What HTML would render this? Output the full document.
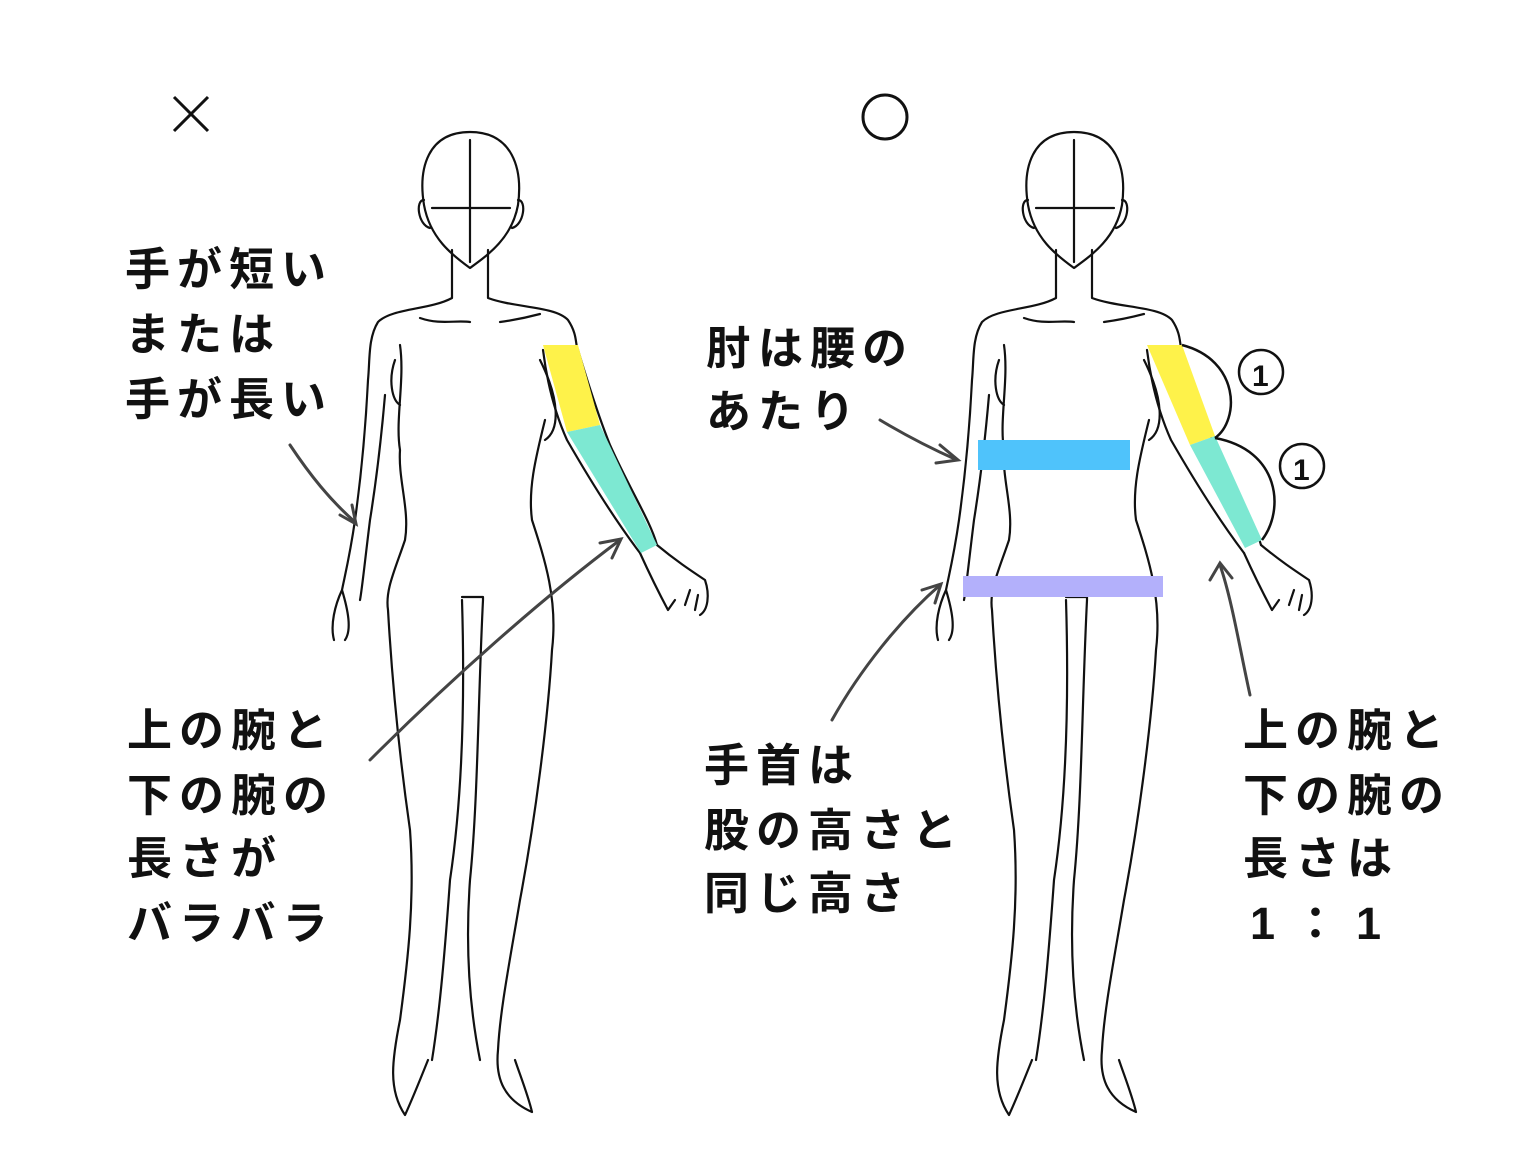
<!DOCTYPE html>
<html><head><meta charset="utf-8">
<style>
html,body{margin:0;padding:0;background:#fff;}
svg{display:block;}
text{font-family:"Liberation Sans","Noto Sans CJK JP",sans-serif;font-weight:bold;font-size:45px;fill:#111;letter-spacing:7px;}
</style></head><body>
<svg width="1536" height="1152" viewBox="0 0 1536 1152" xmlns="http://www.w3.org/2000/svg">
<defs>
<g id="fig" fill="none" stroke="#111" stroke-width="2.2" stroke-linejoin="round" stroke-linecap="round">
  <path d="M470,132 C428,132 418,168 424,205 C430,238 452,255 470,268 C488,255 512,238 518,205 C523,168 512,132 470,132 Z"/>
  <path d="M470,140 L470,262 M432,208 L510,208"/>
  <path d="M424,200 C415,200 418,225 430,228 M518,200 C527,200 524,225 512,228"/>
  <path d="M452,250 L452,298 C430,310 392,308 378,322 C368,338 370,360 368,380 C366,420 362,470 355,520 C350,555 345,575 342,590 C335,605 330,625 334,640 M342,590 C348,610 352,630 345,640"/>
  <path d="M488,250 L488,298 C515,308 555,306 568,320 C578,335 575,345 578,350"/>
  <path d="M420,318 C440,325 455,320 470,322 M500,322 C515,320 525,318 540,314"/>
  <path d="M385,395 C382,430 378,470 370,520 C365,560 362,590 360,600"/>
  <path d="M400,345 C405,380 395,420 400,450 C398,480 410,510 405,540 C395,570 385,590 388,610 C392,680 400,760 410,830 C415,900 408,960 400,1020 C392,1060 388,1090 405,1115 C412,1100 420,1080 428,1060"/>
  <path d="M545,420 C535,460 528,490 532,520 C545,560 558,600 552,650 C548,720 535,820 520,900 C510,960 500,1010 498,1050 C495,1080 505,1100 532,1112 C528,1095 520,1075 515,1060"/>
  <path d="M540,360 C560,400 560,430 545,440"/>
  <path d="M395,360 C388,380 392,400 400,405"/>
  <path d="M462,597 L483,597 L483,600 C478,700 478,800 470,880 C465,950 470,1010 480,1060 M462,600 C465,700 462,800 450,880 C445,950 440,1010 432,1060"/>
  <path d="M578,350 C590,390 600,420 610,445 C630,490 650,520 657,545"/>
  <path d="M543,350 C548,390 558,420 567,440 C590,480 615,520 640,553"/>
  <path d="M640,553 C650,575 660,595 668,610 M657,545 C675,560 690,570 705,580 C710,595 708,610 700,615 M668,610 L675,600 M685,605 L690,590 M695,610 L698,595"/>
</g>
</defs>

<use href="#fig"/>
<use href="#fig" transform="translate(604,0)"/>

<polygon points="543,345 578,345 600,425 567,432" fill="#fef24a"/>
<polygon points="567,432 600,425 657,545 641,553" fill="#7de8d2"/>
<polygon points="1147,345 1182,345 1215,436 1190,445" fill="#fef24a"/>
<polygon points="1190,445 1215,436 1262,540 1245,548" fill="#7de8d2"/>
<rect x="978" y="440" width="152" height="30" fill="#4fc3fb"/>
<rect x="963" y="576" width="200" height="21" fill="#b3b0fb"/>

<g fill="none" stroke="#111" stroke-width="2.5">
<path d="M1182,345 C1240,360 1240,420 1215,438"/>
<path d="M1215,438 C1280,450 1285,510 1262,540"/>
<circle cx="1261" cy="372" r="22"/>
<circle cx="1302" cy="466" r="22"/>
<circle cx="885" cy="117" r="22" stroke-width="3"/>
<path d="M174,97 L208,131 M208,97 L174,131" stroke-width="3"/>
</g>
<text x="1252" y="386" style="font-size:30px;letter-spacing:0">1</text>
<text x="1293" y="480" style="font-size:30px;letter-spacing:0">1</text>

<g fill="none" stroke="#444" stroke-width="3" stroke-linecap="round">
<path d="M290,445 C310,475 330,500 355,522"/>
<path d="M340,515 L356,524 L352,505"/>
<path d="M370,760 C450,680 540,600 620,540"/>
<path d="M600,543 L621,539 L612,558"/>
<path d="M880,420 C905,435 930,448 957,460"/>
<path d="M940,445 L958,460 L936,463"/>
<path d="M832,720 C860,670 900,620 940,585"/>
<path d="M922,590 L941,584 L935,603"/>
<path d="M1250,695 C1240,650 1232,600 1220,565"/>
<path d="M1210,580 L1220,563 L1232,578"/>
</g>

<text x="125" y="285">手が短い</text>
<text x="125" y="350">または</text>
<text x="125" y="415">手が長い</text>
<text x="127" y="746">上の腕と</text>
<text x="127" y="811">下の腕の</text>
<text x="127" y="874">長さが</text>
<text x="127" y="939">バラバラ</text>
<text x="706" y="364">肘は腰の</text>
<text x="706" y="427">あたり</text>
<text x="704" y="781">手首は</text>
<text x="704" y="846">股の高さと</text>
<text x="704" y="909">同じ高さ</text>
<text x="1243" y="746">上の腕と</text>
<text x="1243" y="811">下の腕の</text>
<text x="1243" y="874">長さは</text>
<text x="1250" y="939" style="letter-spacing:18px">1：1</text>
</svg>
</body></html>
